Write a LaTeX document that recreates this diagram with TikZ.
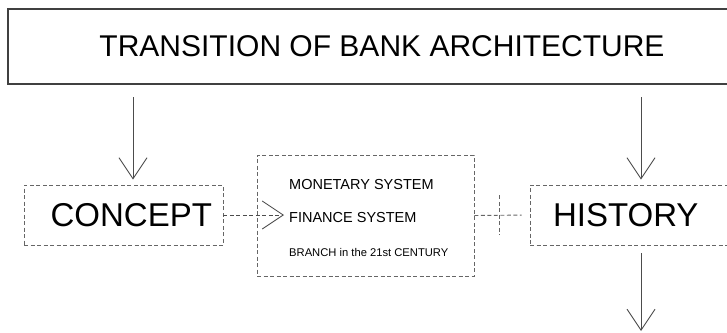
\documentclass[tikz,border=0pt]{standalone}
\usepackage{fontspec}
\setmainfont{Liberation Sans}
\usetikzlibrary{arrows.meta}
\tikzstyle{arrow} = [line width=0.9pt, draw=black!70, -{Straight Barb[length=21pt,width=28pt]}]
\tikzstyle{dashline} = [line width=0.9pt, draw=black!60, dash pattern=on 4pt off 2.5pt]
\tikzstyle{dasharrow} = [arrow, dash pattern=on 4pt off 2.5pt]
\tikzstyle{dashbox} = [rectangle, dashline, minimum height=60pt]
\newcommand{\titlesize}{\fontsize{30}{36}\selectfont}
\newcommand{\bigsize}{\fontsize{33}{38}\selectfont}
\newcommand{\itemsize}{\fontsize{14.5}{17}\selectfont}
\newcommand{\smallsize}{\fontsize{11.2}{13}\selectfont}

\begin{document}
\begin{tikzpicture}[x=1pt, y=-1pt]
                \useasboundingbox (0,0) rectangle (727,332);
                \node (title) [rectangle, draw=black!75, line width=1.2pt, minimum width=748pt, minimum height=75pt, inner sep=0pt] at (382,46.5) {\titlesize TRANSITION OF BANK ARCHITECTURE};
                \node (concept) [dashbox, text width=177pt, align=right, inner xsep=11pt] at (123.5,215) {\bigsize CONCEPT};
                \node (history) [dashbox, text width=176pt, align=left, inner xsep=23pt] at (641,215) {\bigsize HISTORY};
                \node (systems) [dashbox, minimum width=217pt, minimum height=121pt] at (365.5,215.5) {};
                \node (monetary) [anchor=west, inner xsep=2pt] at (287,185) {\itemsize MONETARY SYSTEM};
                \node (finance) [anchor=west, inner xsep=2pt] at (287,218) {\itemsize FINANCE SYSTEM};
                \node (branch) [anchor=west, inner xsep=2pt] at (287,252) {\smallsize BRANCH in the 21st CENTURY};
                \coordinate (in1) at (133,97);
                \coordinate (in2) at (641,97);
                \coordinate (out) at (641,331);

                \draw [arrow, shorten >=5pt] (in1) -- (in1 |- concept.north);
                \draw [arrow, shorten >=5pt] (in2) -- (history.north);
                \draw [arrow, shorten <=8pt] (history.south) -- (out);
                \draw [dasharrow, shorten >=3pt] (concept.east) -- (finance.west |- concept.east);
                \draw [dashline, shorten >=8pt] (systems.east) -- coordinate[pos=0.45] (cross) (history.west);
                \draw [dashline] ([yshift=20pt]cross) -- ([yshift=-20pt]cross);
\end{tikzpicture}
\end{document}
